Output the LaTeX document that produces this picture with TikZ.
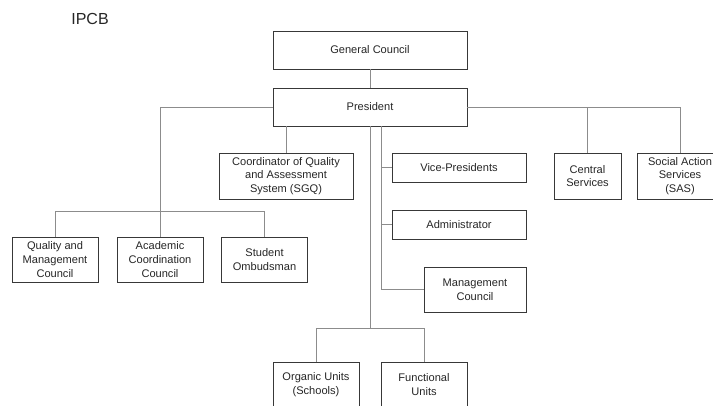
\documentclass[tikz,border=0pt]{standalone}
\usepackage{fontspec}
\setmainfont{Liberation Sans}
\begin{document}
\begin{tikzpicture}[x=0.75pt,y=-0.75pt,
  orgbox/.style={draw=black!78,line width=0.65pt,inner sep=0pt,align=center,
    font=\fontsize{8.3}{10.4}\selectfont,text=black!85},
  link/.style={draw=black!45,line width=0.6pt}]
\useasboundingbox (0,0) rectangle (713,405);
\clip (0,0) rectangle (713,405);

\node[font=\fontsize{12}{14}\selectfont,text=black!85] (title) at (90,19) {IPCB};

% top of the chart
\node[orgbox,minimum width=145.5pt,minimum height=28.5pt] (gc) at (370,50) {General Council};
\node[orgbox,minimum width=145.5pt,minimum height=28.5pt] (pres) at (370,107) {President};

% second row
\node[orgbox,minimum width=100.5pt,minimum height=34.5pt] (sgq) at (286,176) {Coordinator of Quality\\and Assessment\\System (SGQ)};
\node[orgbox,minimum width=100.5pt,minimum height=21.75pt] (vp) at (459,167.5) {Vice-Presidents};
\node[orgbox,minimum width=100.5pt,minimum height=21.75pt] (adm) at (459,224.5) {Administrator};
\node[orgbox,minimum width=76.5pt,minimum height=33.75pt] (mc) at (475,289.5) {Management\\Council};
\node[orgbox,minimum width=50.25pt,minimum height=34.5pt] (cs) at (587.5,176) {Central\\Services};
\node[orgbox,minimum width=64.5pt,minimum height=34.5pt] (sas) at (680,176) {Social Action\\Services\\(SAS)};

% councils on the left
\node[orgbox,minimum width=64.5pt,minimum height=33.75pt] (qmc) at (55,259.5) {Quality and\\Management\\Council};
\node[orgbox,minimum width=64.5pt,minimum height=33.75pt] (acc) at (160,259.5) {Academic\\Coordination\\Council};
\node[orgbox,minimum width=64.5pt,minimum height=33.75pt] (so) at (264.5,259.5) {Student\\Ombudsman};

% units at the bottom
\node[orgbox,minimum width=64.5pt,minimum height=33.75pt] (ou) at (316,384.5) {Organic Units\\(Schools)};
\node[orgbox,minimum width=64.5pt,minimum height=33.75pt] (fu) at (424,384.5) {Functional\\Units};

% helper points for the branching lines
\coordinate (leftbar) at (160,211);
\coordinate (trunkB) at (381,0);
\coordinate (botbar) at (370,328);

% connectors
\draw[link] (gc.south) -- (pres.north);
\draw[link] (pres.west) -| (acc.north);
\draw[link] (qmc.north) |- (leftbar) -| (so.north);
\draw[link] (pres.south -| sgq.north) -- (sgq.north);
\draw[link] (pres.south) -- (botbar);
\draw[link] (ou.north) |- (botbar) -| (fu.north);
\draw[link] (pres.south -| trunkB) |- (mc.west);
\draw[link] (vp.west -| trunkB) -- (vp.west);
\draw[link] (adm.west -| trunkB) -- (adm.west);
\draw[link] (pres.east) -| (sas.north);
\draw[link] (pres.east -| cs.north) -- (cs.north);
\end{tikzpicture}
\end{document}
